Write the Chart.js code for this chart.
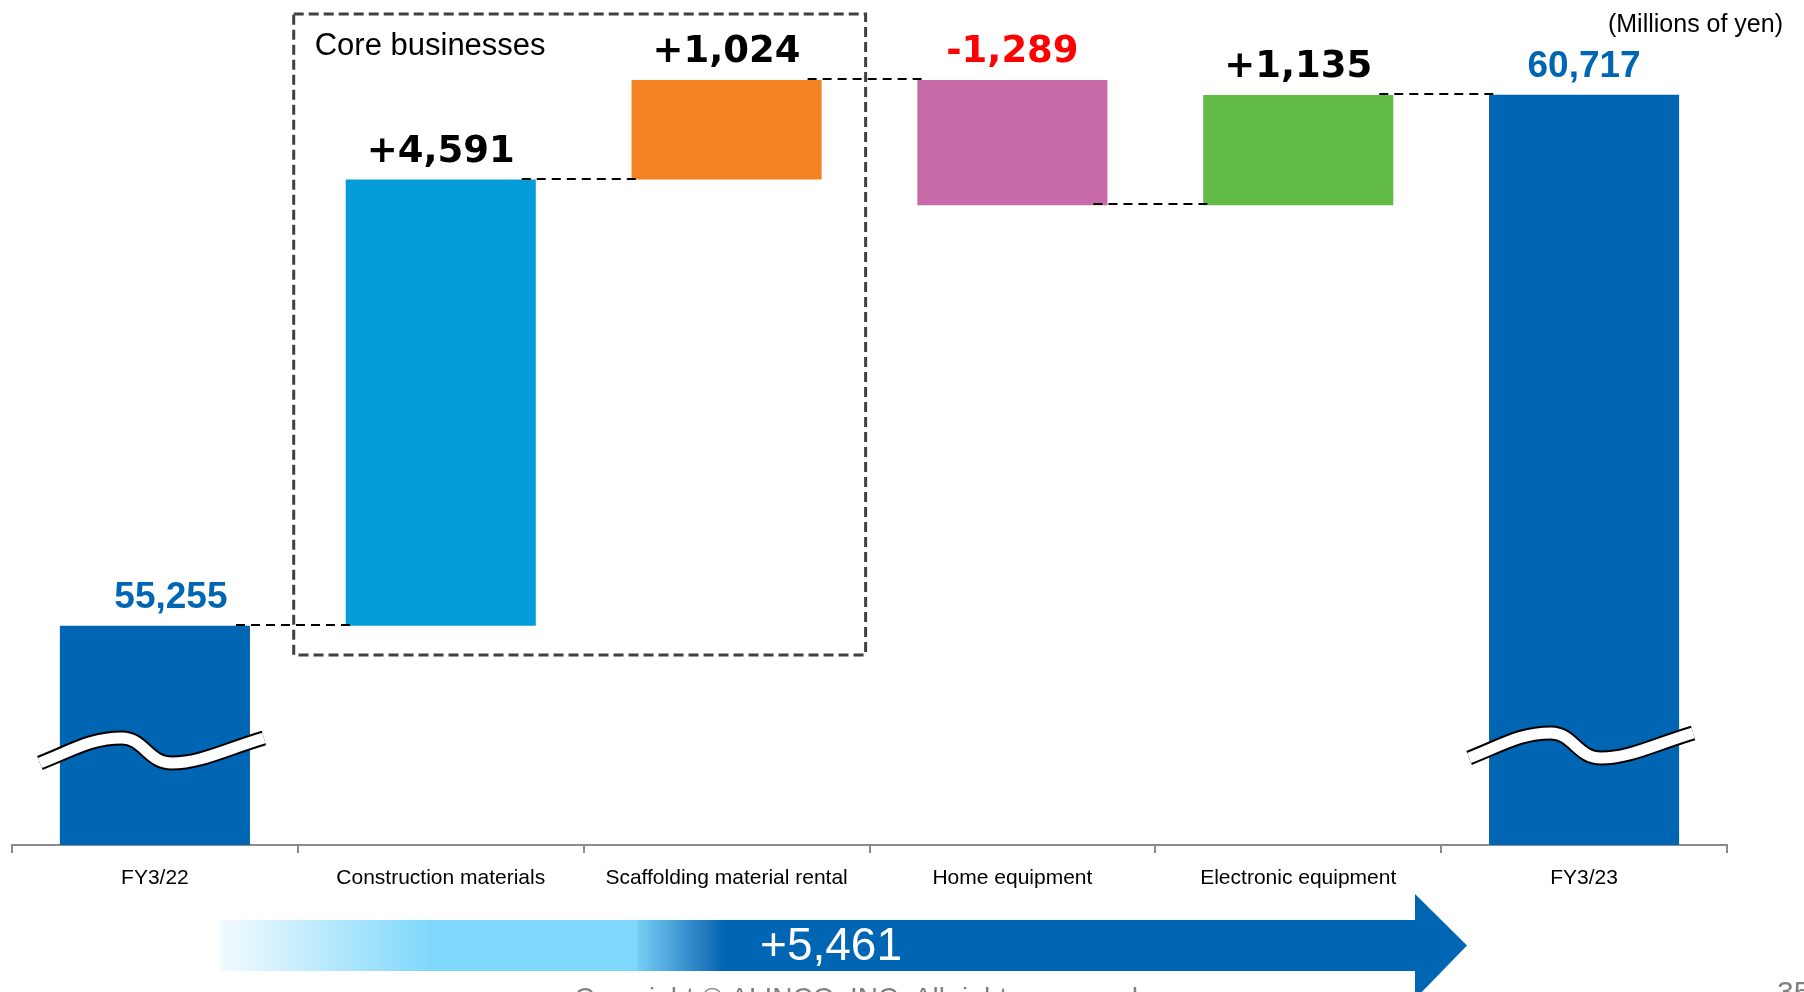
<!DOCTYPE html>
<html>
<head>
<meta charset="utf-8">
<title>Net sales bridge FY3/22 - FY3/23</title>
<script src="https://cdn.jsdelivr.net/npm/chart.js@4"></script>
<style>
  html, body { margin: 0; padding: 0; background: #fff; overflow: hidden; }
  #wrap { position: relative; width: 1804px; height: 992px; }
</style>
</head>
<body>
<div id="wrap"><canvas id="chart"></canvas></div>
<script>
// ===== Data =====
const categories = [
  "FY3/22",
  "Construction materials",
  "Scaffolding material rental",
  "Home equipment",
  "Electronic equipment",
  "FY3/23"
];
const startValue = 55255;
const changes = [4591, 1024, -1289, 1135];
const endValue = 60717;
const totalChange = 5461;

// axis range (broken axis, bottom is not zero)
const yMin = 53000;
const yMax = 61600;

// ===== Styles =====
const barColors = ["#0066B3", "#049CD9", "#F28222", "#C66AA8", "#61BB46", "#0066B3"];
const ARIAL = "'Liberation Sans', Arial, sans-serif";
const BOLD_NUM = "'DejaVu Sans', Verdana, sans-serif";

// ===== Utils =====
const fmt = n => Math.abs(n).toLocaleString("en-US");

function buildRanges() {
  const ranges = [[yMin, startValue]];
  let level = startValue;
  changes.forEach(d => {
    ranges.push([level, level + d]);
    level += d;
  });
  ranges.push([yMin, endValue]);
  return ranges;
}

// level where each bar hands over to the next one
function buildLevels() {
  const levels = [startValue];
  let level = startValue;
  changes.forEach(d => {
    level += d;
    levels.push(level);
  });
  return levels;
}

const ranges = buildRanges();
const levels = buildLevels();

const labelTexts = [
  fmt(startValue),
  ...changes.map(d => (d > 0 ? "+" : "-") + fmt(d)),
  fmt(endValue)
];
const labelColors = [
  "#0066B3",
  ...changes.map(d => (d > 0 ? "#000000" : "#FF0000")),
  "#0066B3"
];

// ===== Drawing helpers =====
function drawBreak(ctx, cx, cy) {
  const x0 = cx - 115, y0 = cy + 13;
  const xp = cx - 33, yp = cy - 12;
  const xt = cx + 17, yt = cy + 13;
  const x3 = cx + 109, y3 = cy - 12;
  const path = () => {
    ctx.beginPath();
    ctx.moveTo(x0, y0);
    ctx.bezierCurveTo(x0 + 35, y0 - 14, xp - 30, yp, xp, yp);
    ctx.bezierCurveTo(xp + 22, yp, xt - 24, yt, xt, yt);
    ctx.bezierCurveTo(xt + 28, yt, x3 - 40, y3 + 12, x3, y3);
  };
  ctx.save();
  ctx.lineCap = "butt";
  path();
  ctx.strokeStyle = "#000";
  ctx.lineWidth = 15;
  ctx.stroke();
  path();
  ctx.strokeStyle = "#fff";
  ctx.lineWidth = 11;
  ctx.stroke();
  ctx.restore();
}

function drawArrow(ctx) {
  const left = 220, right = 1416, tip = 1467;
  const top = 920, bottom = 971, headTop = 894, headBottom = 999;
  const mid = (top + bottom) / 2;

  const g = ctx.createLinearGradient(left, 0, right, 0);
  g.addColorStop(0, "#F2FAFE");
  g.addColorStop(0.176, "#7FD8FC");
  g.addColorStop(0.348, "#7FD8FC");
  g.addColorStop(0.35, "#74CCF4");
  g.addColorStop(0.36, "#66BEEC");
  g.addColorStop(0.37, "#57AFE2");
  g.addColorStop(0.38, "#48A0D8");
  g.addColorStop(0.39, "#3990CE");
  g.addColorStop(0.40, "#2A81C4");
  g.addColorStop(0.41, "#1A73BB");
  g.addColorStop(0.421, "#0066B3");
  g.addColorStop(1, "#0066B3");

  ctx.save();
  ctx.fillStyle = g;
  ctx.fillRect(left, top, right - left, bottom - top);
  ctx.fillStyle = "#0066B3";
  ctx.beginPath();
  ctx.moveTo(right - 1, headTop);
  ctx.lineTo(tip, mid);
  ctx.lineTo(right - 1, headBottom);
  ctx.closePath();
  ctx.fill();

  ctx.fillStyle = "#fff";
  ctx.font = "46px " + ARIAL;
  ctx.textAlign = "center";
  ctx.textBaseline = "middle";
  ctx.fillText("+" + fmt(totalChange), 831, mid + 2);
  ctx.restore();
}

// ===== Plugin: connectors, labels, breaks, frame =====
const decorations = {
  id: "decorations",
  afterDatasetsDraw(chart) {
    const ctx = chart.ctx;
    const bars = chart.getDatasetMeta(0).data;
    const yScale = chart.scales.y;

    // dashed connectors between bars
    ctx.save();
    ctx.strokeStyle = "#000";
    ctx.lineWidth = 2;
    ctx.setLineDash([9, 6]);
    for (let i = 0; i < bars.length - 1; i++) {
      const a = bars[i], b = bars[i + 1];
      const py = Math.round(yScale.getPixelForValue(levels[i])) - 1;
      ctx.beginPath();
      ctx.moveTo(a.x + a.width / 2 - 14, py);
      ctx.lineTo(b.x - b.width / 2 + 10, py);
      ctx.stroke();
    }
    ctx.restore();

    // axis break marks on the two total bars
    drawBreak(ctx, bars[0].x, 750);
    drawBreak(ctx, bars[bars.length - 1].x, 745);

    // value labels
    ctx.save();
    ctx.textAlign = "center";
    ctx.textBaseline = "alphabetic";
    bars.forEach((bar, i) => {
      const top = Math.min(bar.y, bar.base);
      const isTotal = i === 0 || i === bars.length - 1;
      ctx.font = isTotal ? "bold 37px " + ARIAL : "bold 37px " + BOLD_NUM;
      ctx.fillStyle = labelColors[i];
      const dx = i === 0 ? 16 : 0;
      ctx.fillText(labelTexts[i], bar.x + dx, top - 18);
    });
    ctx.restore();

    // core businesses frame
    const b1 = bars[1], b2 = bars[2];
    const fx0 = b1.x - b1.width / 2 - 52;
    const fx1 = b2.x + b2.width / 2 + 44;
    const fy0 = 14;
    const fy1 = Math.round(yScale.getPixelForValue(startValue)) + 29;
    ctx.save();
    ctx.strokeStyle = "#404040";
    ctx.lineWidth = 3;
    ctx.setLineDash([10, 5]);
    ctx.strokeRect(fx0, fy0, fx1 - fx0, fy1 - fy0);
    ctx.setLineDash([]);
    ctx.fillStyle = "#000";
    ctx.font = "31px " + ARIAL;
    ctx.textAlign = "left";
    ctx.textBaseline = "alphabetic";
    ctx.fillText("Core businesses", fx0 + 21, 55);
    ctx.restore();
  },
  afterDraw(chart) {
    const ctx = chart.ctx;
    ctx.save();
    ctx.fillStyle = "#000";
    ctx.font = "25px " + ARIAL;
    ctx.textAlign = "right";
    ctx.textBaseline = "alphabetic";
    ctx.fillText("(Millions of yen)", 1783, 32);
    ctx.restore();

    drawArrow(ctx);

    ctx.save();
    ctx.fillStyle = "#808080";
    ctx.font = "28px " + ARIAL;
    ctx.textAlign = "center";
    ctx.textBaseline = "alphabetic";
    ctx.fillText("Copyright \u00A9 ALINCO, INC. All rights reserved.", 860, 1007);
    ctx.textAlign = "left";
    ctx.font = "30px " + ARIAL;
    ctx.fillText("35", 1777, 1002);
    ctx.restore();
  }
};

// ===== Chart =====
const ctx = document.getElementById("chart").getContext("2d");

new Chart(ctx, {
  type: "bar",
  data: {
    labels: categories,
    datasets: [{
      data: ranges,
      backgroundColor: barColors,
      borderWidth: 0,
      barPercentage: 0.665,
      categoryPercentage: 1
    }]
  },
  options: {
    responsive: true,
    maintainAspectRatio: false,
    animation: false,
    layout: {
      padding: { top: 9, left: 12, right: 77, bottom: 0 }
    },
    plugins: {
      legend: { display: false },
      tooltip: { enabled: false }
    },
    scales: {
      x: {
        offset: true,
        afterFit(scale) { scale.height = 147; },
        grid: {
          offset: true,
          drawOnChartArea: false,
          drawTicks: true,
          tickLength: 8,
          color: "#8C8C8C",
          lineWidth: 2
        },
        border: { display: true, color: "#8C8C8C", width: 2 },
        ticks: {
          color: "#000",
          padding: 13,
          maxRotation: 0,
          autoSkip: false,
          font: { family: ARIAL, size: 21 }
        }
      },
      y: {
        display: false,
        min: yMin,
        max: yMax
      }
    }
  },
  plugins: [decorations]
});
</script>
</body>
</html>
